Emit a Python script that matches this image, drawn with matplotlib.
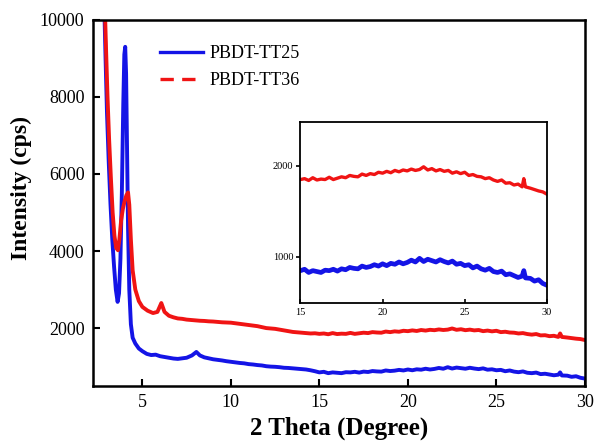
import matplotlib
matplotlib.use("Agg")
import matplotlib.pyplot as plt
from matplotlib.lines import Line2D

# ---- data ----
blue_x = [2.85, 2.92, 3.0, 3.1, 3.2, 3.3, 3.4, 3.5, 3.6, 3.68, 3.76, 3.84, 3.92, 3.98, 4.03,
          4.08, 4.13, 4.19, 4.26, 4.35, 4.45, 4.6, 4.8, 5.0, 5.25, 5.5, 5.75, 6.0, 6.25, 6.5,
          6.75, 7.0, 7.25, 7.5, 7.8, 8.05, 8.25, 8.5, 8.75, 9.0, 9.25, 9.5, 9.75, 10.0, 10.25,
          10.5, 10.75, 11.0, 11.25, 11.5, 11.75, 12.0, 12.25, 12.5, 12.75, 13.0, 13.25, 13.5,
          13.75, 14.0, 14.25, 14.5, 14.75, 15.0, 15.25, 15.5, 15.75, 16.0, 16.25, 16.5, 16.75,
          17.0, 17.25, 17.5, 17.75, 18.0, 18.25, 18.5, 18.75, 19.0, 19.25, 19.5, 19.75, 20.0,
          20.25, 20.5, 20.75, 21.0, 21.25, 21.5, 21.75, 22.0, 22.25, 22.5, 22.75, 23.0, 23.25,
          23.5, 23.75, 24.0, 24.25, 24.5, 24.75, 25.0, 25.25, 25.5, 25.75, 26.0, 26.25, 26.5,
          26.75, 27.0, 27.25, 27.5, 27.75, 28.0, 28.25, 28.5, 28.6, 28.7, 29.0, 29.25, 29.5,
          29.75, 30.0]
blue_y = [10300, 9000, 7600, 6300, 5200, 4300, 3600, 3000, 2680, 2900, 3800, 5500, 7800, 9100, 9300,
          8600, 6800, 4600, 3000, 2100, 1750, 1600, 1470, 1400, 1330, 1300, 1310, 1270, 1250, 1230,
          1210, 1200, 1215, 1230, 1290, 1380, 1290, 1240, 1215, 1190, 1175, 1160, 1140, 1125, 1110,
          1095, 1085, 1065, 1055, 1040, 1030, 1010, 1000, 995, 985, 970, 965, 955,
          945, 935, 925, 905, 880, 850, 865, 830, 850, 840, 830, 855, 850,
          865, 845, 870, 860, 885, 875, 870, 900, 885, 895, 915, 900, 925,
          905, 930, 920, 945, 925, 940, 965, 945, 985, 950, 975, 960, 945,
          970, 950, 935, 955, 920, 930, 905, 915, 880, 900, 870, 855, 875,
          840, 830, 845, 805, 815, 795, 775, 790, 850, 770, 765, 735, 750,
          710, 690]

red_x = [2.88, 2.95, 3.03, 3.12, 3.22, 3.32, 3.42, 3.52, 3.62, 3.7, 3.8, 3.9, 4.0, 4.1, 4.19,
         4.26, 4.35, 4.45, 4.6, 4.8, 5.0, 5.3, 5.6, 5.85, 6.07, 6.25, 6.5, 6.75, 7.0, 7.25,
         7.5, 7.75, 8.0, 8.25, 8.5, 8.75, 9.0, 9.25, 9.5, 9.75, 10.0, 10.25, 10.5, 10.75,
         11.0, 11.25, 11.5, 11.75, 12.0, 12.25, 12.5, 12.75, 13.0, 13.25, 13.5, 13.75, 14.0,
         14.25, 14.5, 14.75, 15.0, 15.25, 15.5, 15.75, 16.0, 16.25, 16.5, 16.75, 17.0, 17.25,
         17.5, 17.75, 18.0, 18.25, 18.5, 18.75, 19.0, 19.25, 19.5, 19.75, 20.0, 20.25, 20.5,
         20.75, 21.0, 21.25, 21.5, 21.75, 22.0, 22.25, 22.5, 22.75, 23.0, 23.25, 23.5, 23.75,
         24.0, 24.25, 24.5, 24.75, 25.0, 25.25, 25.5, 25.75, 26.0, 26.25, 26.5, 26.75, 27.0,
         27.25, 27.5, 27.75, 28.0, 28.25, 28.5, 28.6, 28.7, 29.0, 29.25, 29.5, 29.75, 30.0]
red_y = [10300, 9200, 8000, 6900, 5900, 5000, 4400, 4080, 4020, 4300, 4800, 5100, 5300, 5450, 5520,
         5200, 4300, 3500, 3000, 2700, 2550, 2450, 2390, 2420, 2650, 2420, 2320, 2280, 2250, 2240,
         2220, 2210, 2200, 2190, 2185, 2175, 2170, 2160, 2150, 2145, 2140, 2125, 2110, 2095,
         2080, 2065, 2050, 2025, 2000, 1990, 1980, 1960, 1940, 1920, 1900, 1890, 1880,
         1870, 1860, 1865, 1850, 1860, 1840, 1870, 1845, 1855, 1850, 1875, 1850, 1865,
         1880, 1870, 1895, 1885, 1880, 1910, 1895, 1915, 1905, 1930, 1920, 1940, 1925,
         1950, 1935, 1955, 1945, 1965, 1950, 1960, 1990, 1955, 1970, 1945, 1960, 1940,
         1950, 1920, 1935, 1915, 1930, 1895, 1905, 1885, 1880, 1860, 1870, 1845, 1830,
         1845, 1810, 1815, 1790, 1800, 1770, 1860, 1770, 1755, 1740, 1725, 1715, 1690]

label_blue = "PBDT-TT25"
label_red = "PBDT-TT36"
x_ticks = [5, 10, 15, 20, 25, 30]
y_ticks = [2000, 4000, 6000, 8000, 10000]
inset_x_ticks = [15, 20, 25, 30]
inset_y_ticks = [1000, 2000]

BLUE = "#1414e6"
RED = "#f01414"

plt.rcParams['font.family'] = ['Liberation Serif', 'DejaVu Serif']

fig = plt.figure(figsize=(5.95, 4.41), dpi=100)
ax = fig.add_axes([0.156, 0.125, 0.827, 0.830])

ax.plot(blue_x, blue_y, color=BLUE, lw=2.8, solid_joinstyle='round')
ax.plot(red_x, red_y, color=RED, lw=2.8, solid_joinstyle='round')
ax.set_xlim(2.2, 30)
ax.set_ylim(500, 10000)
ax.set_xticks(x_ticks)
ax.set_yticks(y_ticks)
ax.tick_params(axis='both', direction='in', length=5, width=1.5, labelsize=13, pad=6)
for s in ax.spines.values():
    s.set_linewidth(1.8)
ax.set_xlabel("2 Theta (Degree)", fontsize=18, fontweight='bold', labelpad=4)
ax.set_ylabel("Intensity (cps)", fontsize=17, fontweight='bold')
ax.yaxis.set_label_coords(-0.124, 0.541)

handles = [Line2D([], [], color=BLUE, lw=2.4, ls='-'),
           Line2D([], [], color=RED, lw=2.4, ls=(0, (4, 2.5)))]
ax.legend(handles, [label_blue, label_red], loc='upper left', bbox_to_anchor=(0.136, 0.93),
          frameon=False, fontsize=13, handlelength=2.4, handletextpad=0.35,
          labelspacing=0.52, borderpad=0, borderaxespad=0)

# inset
axi = fig.add_axes([0.505, 0.314, 0.414, 0.409])
axi.plot(blue_x, blue_y, color=BLUE, lw=3.4, solid_joinstyle='round')
axi.plot(red_x, red_y, color=RED, lw=2.4, solid_joinstyle='round')
axi.set_xlim(15, 30)
axi.set_ylim(500, 2480)
axi.set_xticks(inset_x_ticks)
axi.set_yticks(inset_y_ticks)
axi.tick_params(axis='x', direction='in', length=3, width=1.2, labelsize=7.5, pad=4)
axi.tick_params(axis='y', direction='out', length=3, width=1.2, labelsize=7.5, pad=2)
for s in axi.spines.values():
    s.set_linewidth(1.3)

fig.savefig("out.png", dpi=100)
